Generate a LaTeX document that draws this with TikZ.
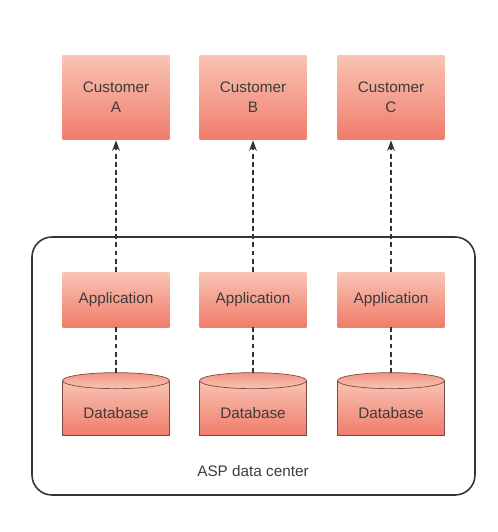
\documentclass[tikz,border=0pt]{standalone}
\usepackage{fontspec}
\setmainfont{Liberation Sans}
\usepackage{xcolor}
\usetikzlibrary{arrows.meta}
\definecolor{salmontop}{HTML}{F9C4B4}
\definecolor{salmonbot}{HTML}{F07C6A}
\definecolor{textgray}{HTML}{3C3C3C}
\definecolor{rimred}{HTML}{7A4A45}
\definecolor{framegray}{HTML}{333333}

\begin{document}
\begin{tikzpicture}[x=0.02cm, y=-0.02cm,
    every node/.style={font=\fontsize{8.7}{11.4}\selectfont, text=textgray},
    tile/.style={rectangle, top color=salmontop, bottom color=salmonbot,
      minimum width=2.14cm, inner sep=0pt, align=center},
    drum/.style={tile, draw=rimred, thin, minimum height=1.08cm},
    lid/.style={rimred, thin, top color=salmontop!35!salmonbot, bottom color=salmontop},
    link/.style={framegray, line width=0.8pt, dash pattern=on 2.8pt off 1.8pt}]
        \useasboundingbox (0,0) rectangle (498,532);

        % ASP data center frame
        \draw[framegray, line width=0.9pt, rounded corners=0.4cm] (32,237) rectangle (475,495);
        \node (asp) at (253,471) {ASP data center};

        % customers
        \node[tile, minimum height=1.7cm] (custA) at (116,97.5) {Customer\\A};
        \node[tile, minimum height=1.7cm] (custB) at (253,97.5) {Customer\\B};
        \node[tile, minimum height=1.7cm] (custC) at (391,97.5) {Customer\\C};

        % applications and databases (cylinder = body + top ellipse)
        \foreach \n/\x in {A/116, B/253, C/391} {
          \node[tile, minimum height=1.1cm] (app\n) at (\x,299.5) {Application};
          \node[drum] (db\n) at (\x,408) {};
          \draw[lid] (db\n.north) ellipse (53.5 and 8);
          \coordinate (dbtop\n) at ([yshift=0.16cm]db\n.north);
          \node (dblabel\n) at (\x,413) {Database};
          \draw[link, -{Stealth[length=6pt,width=4.4pt]}] (app\n.north) -- (cust\n.south);
          \draw[link] (app\n.south) -- (dbtop\n);
        }
      \end{tikzpicture}
\end{document}
